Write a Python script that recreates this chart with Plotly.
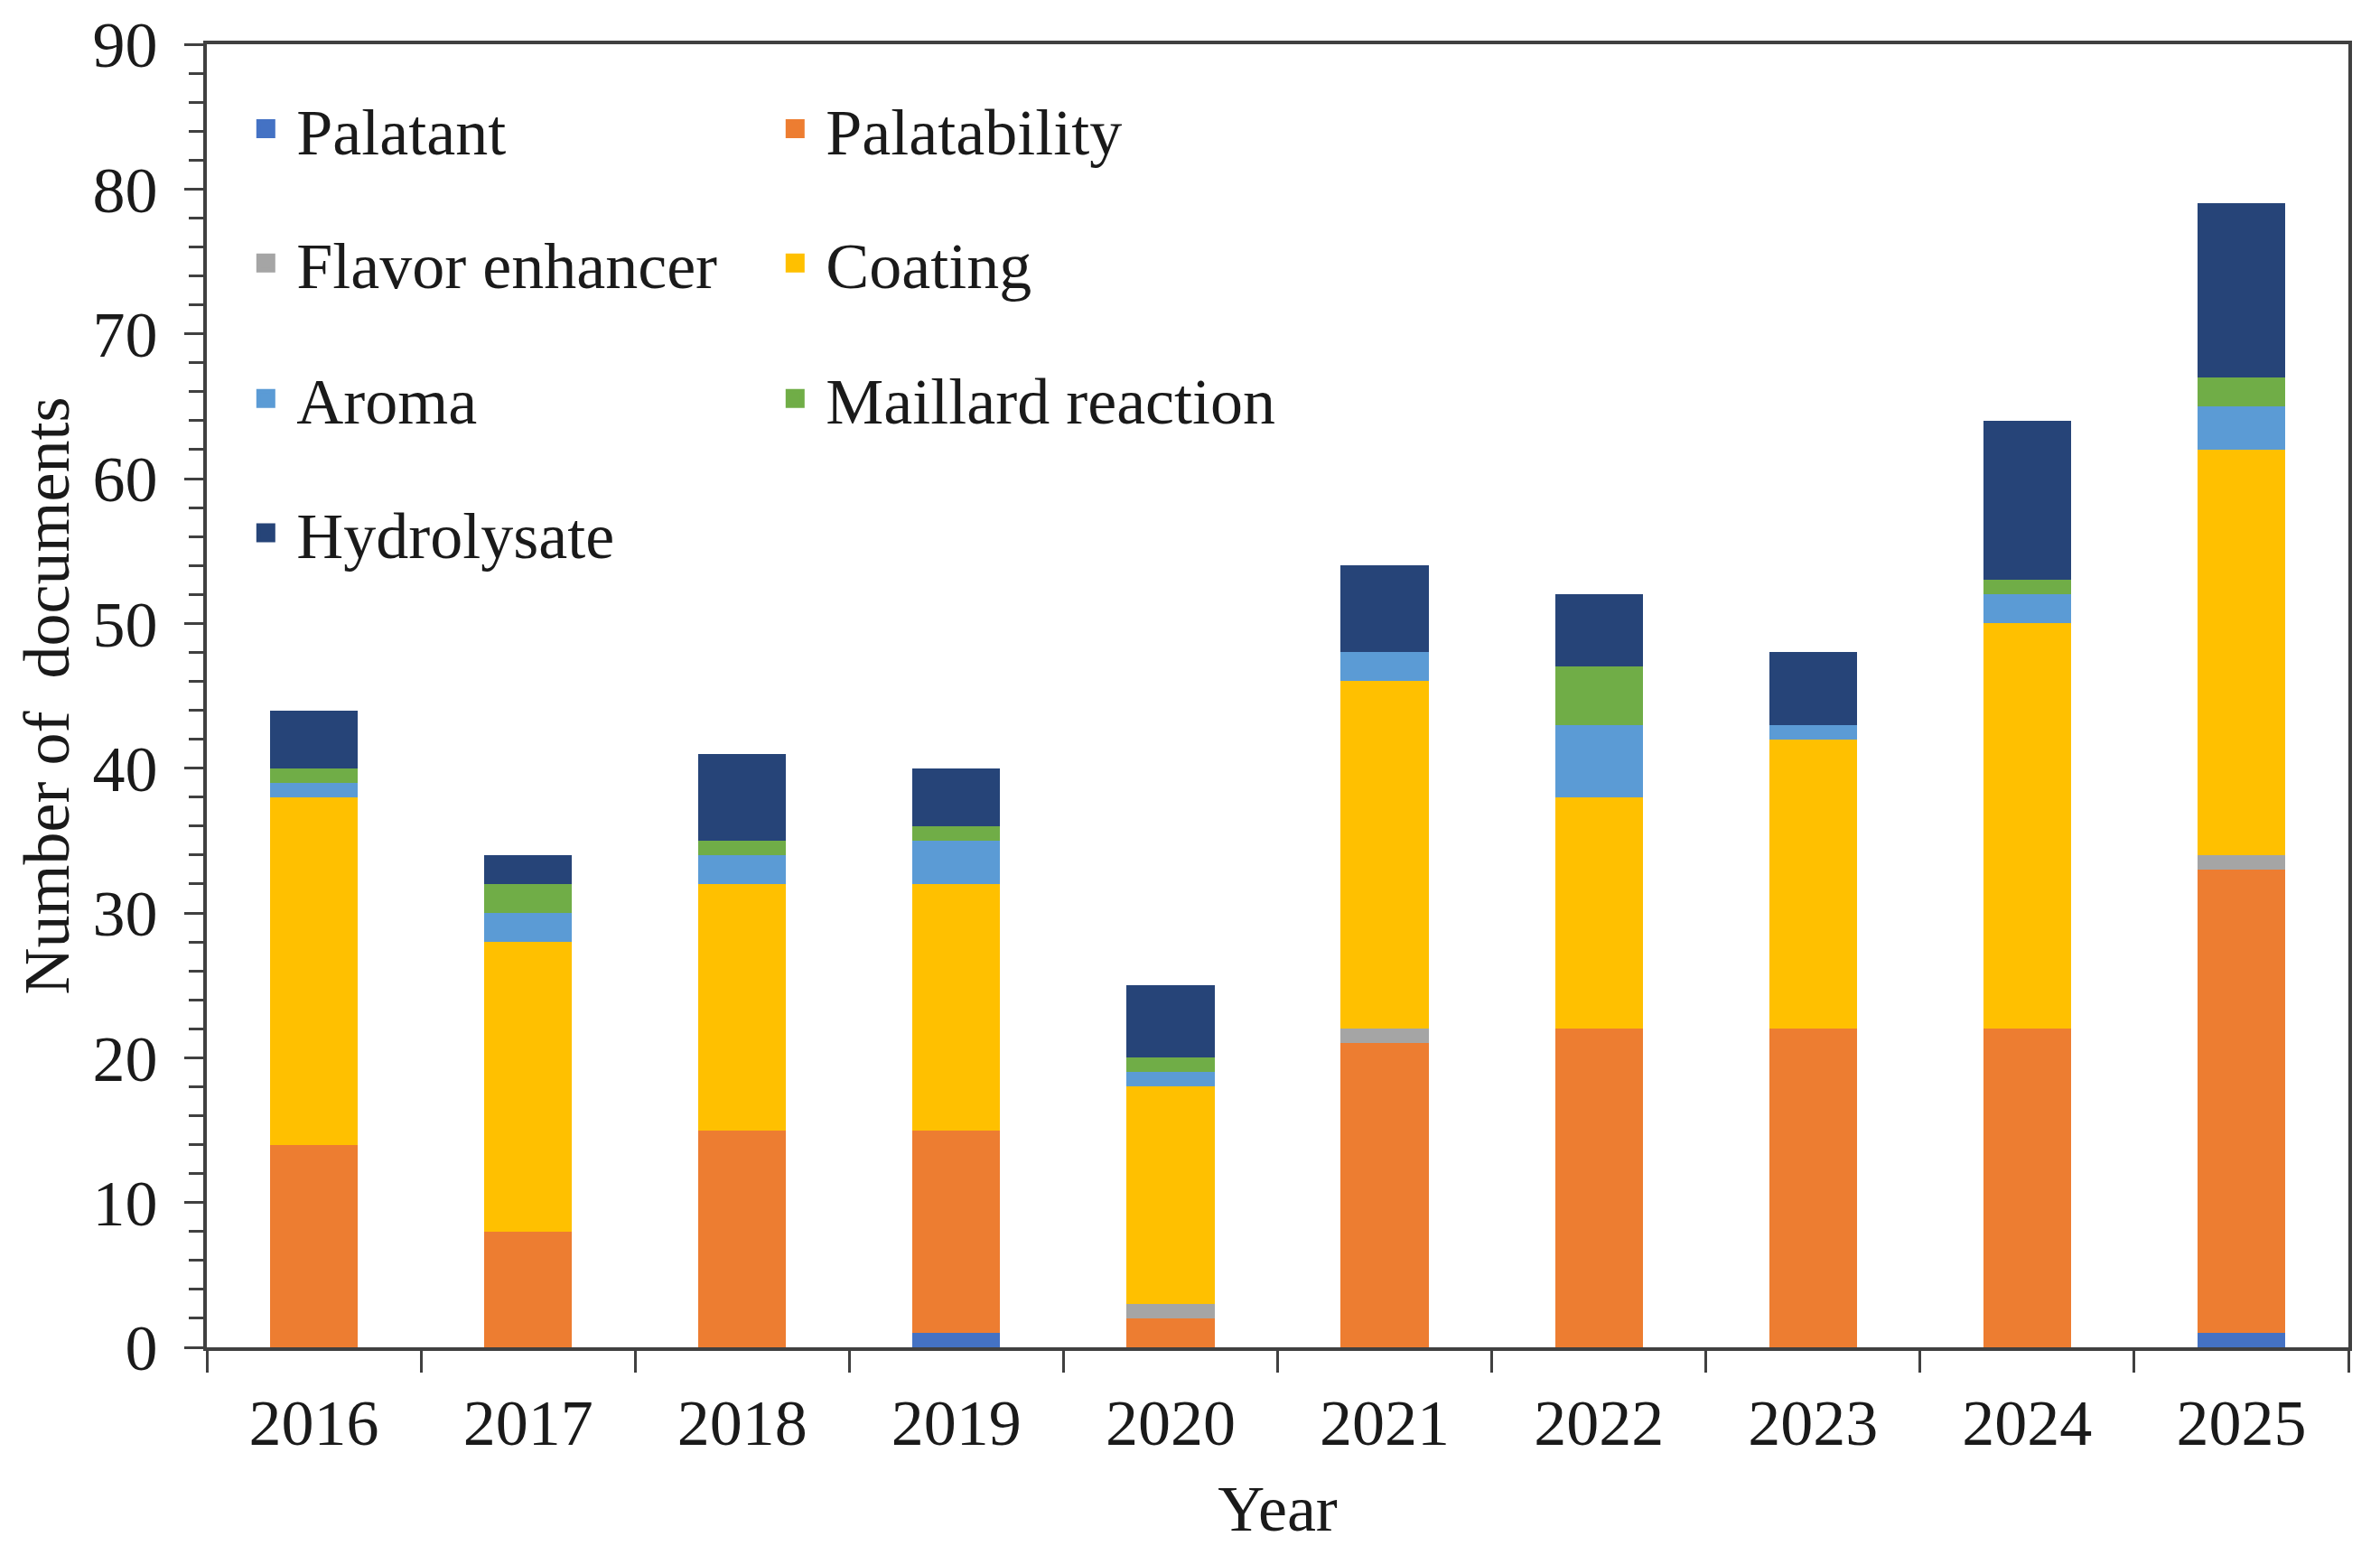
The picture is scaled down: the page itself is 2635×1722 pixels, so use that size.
import plotly.graph_objects as go

years = ["2016", "2017", "2018", "2019", "2020", "2021", "2022", "2023", "2024", "2025"]

palatant = [0, 0, 0, 1, 0, 0, 0, 0, 0, 1]
palatability = [14, 8, 15, 14, 2, 21, 22, 22, 22, 32]
flavor_enhancer = [0, 0, 0, 0, 1, 1, 0, 0, 0, 1]
coating = [24, 20, 17, 17, 15, 24, 16, 20, 28, 28]
aroma = [1, 2, 2, 3, 1, 2, 5, 1, 2, 3]
maillard = [1, 2, 1, 1, 1, 0, 4, 0, 1, 2]
hydrolysate = [4, 2, 6, 4, 5, 6, 5, 5, 11, 12]

series = [
    ("Palatant", palatant, "#4472C4", "legend"),
    ("Palatability", palatability, "#ED7D31", "legend"),
    ("Flavor enhancer", flavor_enhancer, "#A5A5A5", "legend2"),
    ("Coating", coating, "#FFC000", "legend2"),
    ("Aroma", aroma, "#5B9BD5", "legend3"),
    ("Maillard reaction", maillard, "#70AD47", "legend3"),
    ("Hydrolysate", hydrolysate, "#264478", "legend4"),
]

FONT = "Liberation Serif, Times New Roman, serif"
TXT = "#1a1a1a"
AX = "#404040"

fig = go.Figure()
for name, vals, color, leg in series:
    fig.add_trace(go.Bar(
        x=years, y=vals, name=name, legendgroup=name, showlegend=False,
        marker=dict(color=color, line=dict(width=0)),
    ))
    # legend-only entry so the swatch can be drawn larger than the bar default
    fig.add_trace(go.Scatter(
        x=[None], y=[None], mode="markers", name=name, legendgroup=name, legend=leg,
        marker=dict(symbol="square", size=16, color=color, line=dict(width=5, color=color)),
        hoverinfo="skip",
    ))

leg_common = dict(
    orientation="h", xanchor="left", yanchor="middle",
    entrywidth=513, entrywidthmode="pixels",
    itemwidth=58,
    font=dict(family=FONT, size=72, color=TXT),
    bgcolor="rgba(0,0,0,0)", traceorder="normal",
    itemsizing="trace",
)
legend_x = 0.0132

# page body adds an 8px offset, so the figure is 8px smaller than the window
fig.update_layout(
    barmode="stack",
    bargap=0.59,
    width=2627, height=1714,
    paper_bgcolor="white", plot_bgcolor="white",
    margin=dict(l=221, r=35, t=41, b=230),
    font=dict(family=FONT, size=72, color=TXT),
    legend=dict(x=legend_x, y=0.935, **leg_common),
    legend2=dict(x=legend_x, y=0.832, **leg_common),
    legend3=dict(x=legend_x, y=0.728, **leg_common),
    legend4=dict(x=legend_x, y=0.625, **leg_common),
)

fig.update_xaxes(
    type="category",
    tickson="boundaries",
    ticks="outside", ticklen=24, tickwidth=3, tickcolor=AX,
    ticklabelstandoff=18,
    showline=True, linewidth=4, linecolor=AX, mirror=True,
    showgrid=False, automargin=False,
    tickfont=dict(family=FONT, size=72, color=TXT),
    title=dict(text="Year", font=dict(family=FONT, size=72, color=TXT), standoff=30),
)
fig.update_yaxes(
    range=[0, 90], dtick=10, tick0=0,
    ticks="outside", ticklen=21, tickwidth=3, tickcolor=AX,
    ticklabelstandoff=15,
    minor=dict(dtick=2, ticks="outside", ticklen=16, tickwidth=3, tickcolor=AX, showgrid=False),
    showline=True, linewidth=4, linecolor=AX, mirror=True,
    showgrid=False, zeroline=False, automargin=False,
    tickfont=dict(family=FONT, size=72, color=TXT),
    title=dict(text="Number of  documents", font=dict(family=FONT, size=72, color=TXT), standoff=3),
)

fig.write_html("out.html")
